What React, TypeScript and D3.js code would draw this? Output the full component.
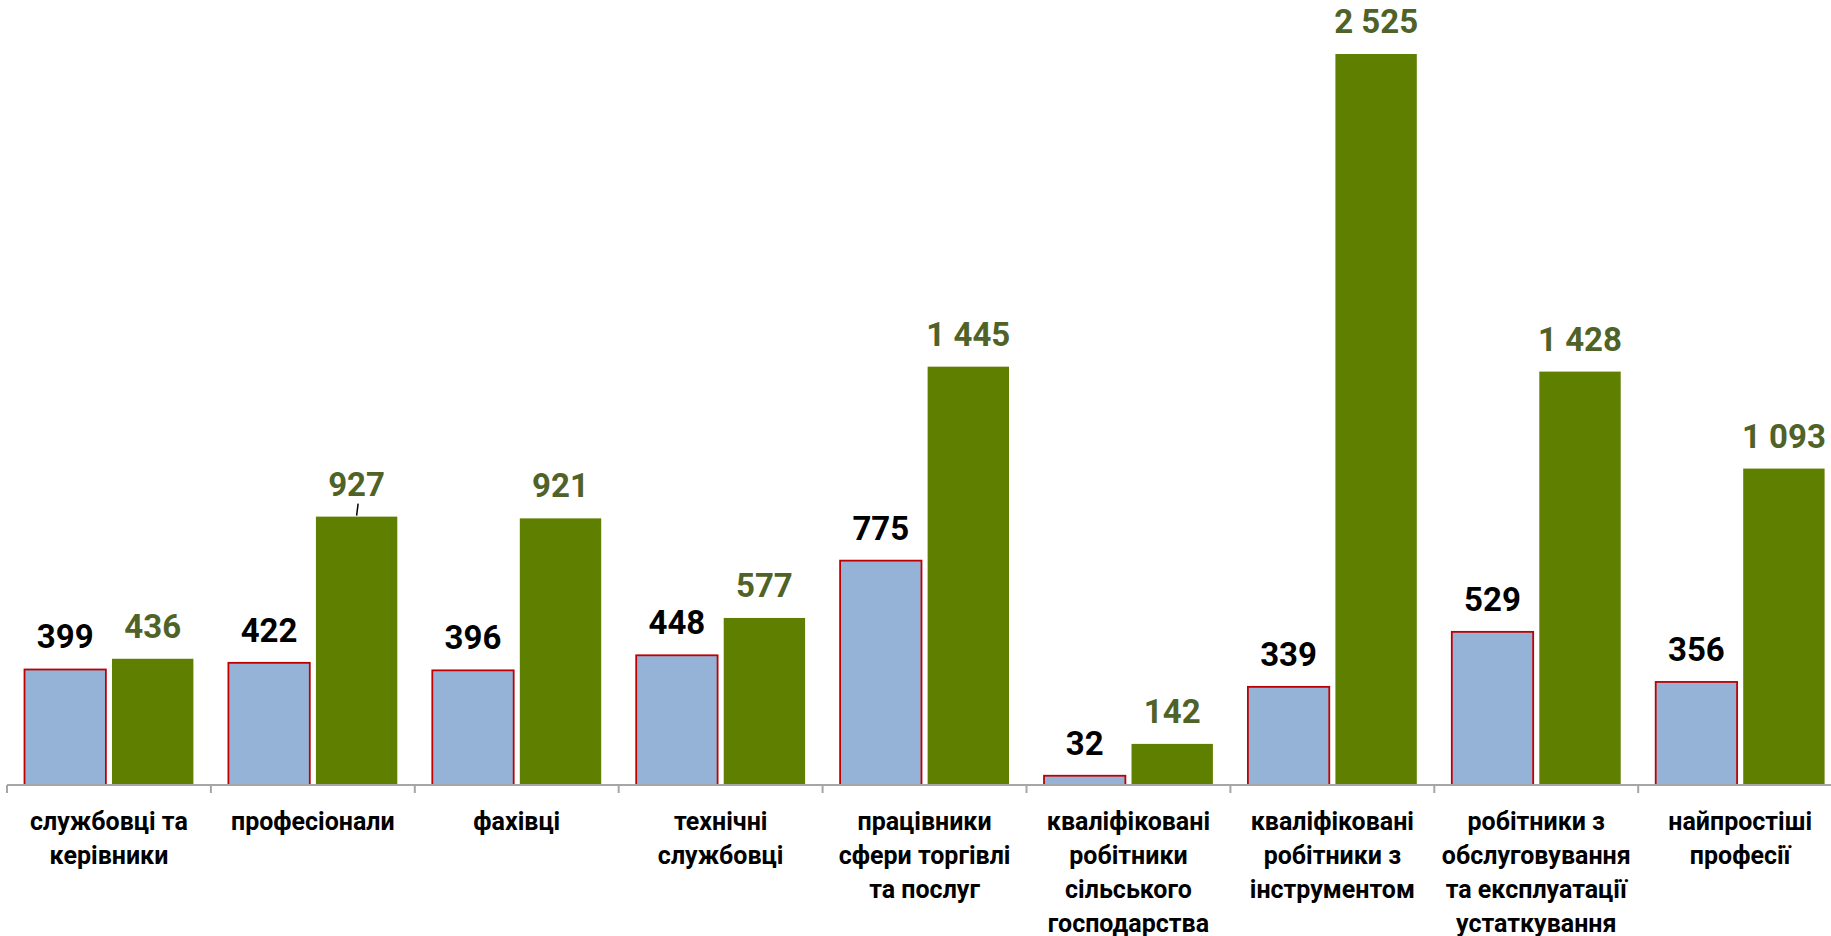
import React from "react";
import * as d3 from "d3";

const categories: string[][] = [
  ["службовці та", "керівники"],
  ["професіонали"],
  ["фахівці"],
  ["технічні", "службовці"],
  ["працівники", "сфери торгівлі", "та послуг"],
  ["кваліфіковані", "робітники", "сільського", "господарства"],
  ["кваліфіковані", "робітники з", "інструментом"],
  ["робітники з", "обслуговування", "та експлуатації", "устаткування"],
  ["найпростіші", "професії"],
];
const seriesA: number[] = [399, 422, 396, 448, 775, 32, 339, 529, 356];
const seriesB: number[] = [436, 927, 921, 577, 1445, 142, 2525, 1428, 1093];

const W = 1831;
const H = 936;
const FONT = "Roboto, 'Noto Sans', sans-serif";
const fmt = (v: number) => d3.format(",")(v).replace(/,/g, " ");

export default function App() {
  const band = 203.9;
  const x0 = d3
    .scaleBand<number>()
    .domain(d3.range(categories.length))
    .range([7, 7 + band * categories.length])
    .paddingInner(0)
    .paddingOuter(0);
  const x1 = d3
    .scaleBand<string>()
    .domain(["a", "b"])
    .range([0, x0.bandwidth()])
    .paddingInner(0.07)
    .paddingOuter(0.2);
  const y = d3.scaleLinear().domain([0, 2525]).range([785, 54]);
  const baseY = y(0);

  return (
    <svg
      width={W}
      height={H}
      style={{ position: "fixed", left: 0, top: 0, background: "#fff" }}
      fontFamily={FONT}
    >
      {categories.map((lines, i) => {
        const bx = x0(i)!;
        const ax = bx + x1("a")!;
        const gx = bx + x1("b")!;
        const bw = x1.bandwidth();
        const cx = bx + x0.bandwidth() / 2;
        return (
          <g key={i}>
            <rect
              x={ax}
              y={y(seriesA[i])}
              width={bw}
              height={baseY - y(seriesA[i])}
              fill="#95B3D7"
              stroke="#C00000"
              strokeWidth={1.8}
            />
            <rect
              x={gx}
              y={y(seriesB[i])}
              width={bw}
              height={baseY - y(seriesB[i])}
              fill="#5F7F00"
            />
            <text
              x={ax + bw / 2}
              y={y(seriesA[i]) - 21}
              textAnchor="middle"
              fontSize={33}
              fontWeight="bold"
              fill="#000"
            >
              {fmt(seriesA[i])}
            </text>
            <text
              x={gx + bw / 2}
              y={y(seriesB[i]) - 21}
              textAnchor="middle"
              fontSize={33}
              fontWeight="bold"
              fill="#4F6228"
            >
              {fmt(seriesB[i])}
            </text>
            {i === 1 && (
              <line
                x1={gx + bw / 2 + 1.5}
                y1={y(seriesB[i]) - 13}
                x2={gx + bw / 2}
                y2={y(seriesB[i]) - 1}
                stroke="#000"
                strokeWidth={1.5}
              />
            )}
            {lines.map((ln, j) => (
              <text
                key={j}
                x={cx}
                y={830 + j * 34}
                textAnchor="middle"
                fontSize={25}
                fontWeight="bold"
                fill="#000"
              >
                {ln}
              </text>
            ))}
          </g>
        );
      })}
      <line x1={7} x2={W} y1={baseY} y2={baseY} stroke="#A6A6A6" strokeWidth={2} />
      {d3.range(categories.length + 1).map((i) => {
        const tx = 7 + band * i;
        return (
          <line
            key={i}
            x1={tx}
            x2={tx}
            y1={baseY}
            y2={baseY + 8}
            stroke="#A6A6A6"
            strokeWidth={2}
          />
        );
      })}
    </svg>
  );
}
